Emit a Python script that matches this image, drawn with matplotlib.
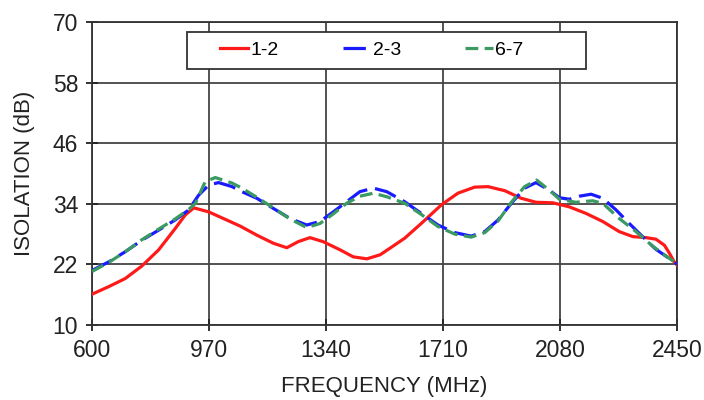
import numpy as np
import matplotlib.pyplot as plt
from matplotlib.patches import Rectangle

plt.rcParams["font.family"] = ["Liberation Sans", "DejaVu Sans"]

# isolation readings (dB) vs frequency (MHz)
freq_12 = [600, 653, 705, 758, 811, 863, 895, 922, 969, 1022, 1068, 1121, 1173,
           1216, 1252, 1289, 1331, 1384, 1426, 1469, 1511, 1542, 1589, 1641, 1705,
           1757, 1810, 1852, 1905, 1957, 2004, 2057, 2109, 2162, 2215, 2267, 2310,
           2352, 2383, 2410, 2426, 2441, 2450]
iso_12 = [16.1, 17.6, 19.2, 21.7, 24.9, 29.1, 31.8, 33.2, 32.4, 30.9, 29.6, 27.8, 26.2,
          25.3, 26.5, 27.3, 26.5, 24.9, 23.5, 23.1, 23.9, 25.2, 27.2, 30.1, 33.8,
          36.1, 37.3, 37.4, 36.6, 35.1, 34.3, 34.2, 33.4, 32.1, 30.5, 28.5, 27.5,
          27.3, 27.0, 25.8, 24.2, 22.5, 21.9]

freq_23 = [600, 653, 705, 758, 811, 863, 906, 937, 969, 1000, 1043, 1074, 1121, 1173,
           1226, 1279, 1321, 1363, 1405, 1447, 1490, 1532, 1589, 1641, 1694, 1747,
           1799, 1842, 1884, 1926, 1968, 2004, 2046, 2078, 2109, 2141, 2178, 2215,
           2257, 2299, 2341, 2383, 2441, 2450]
iso_23 = [20.8, 22.5, 24.5, 26.8, 28.8, 30.8, 32.8, 35.7, 37.7, 38.2, 37.4, 36.4, 35.1, 33.1,
          31.1, 29.8, 30.5, 32.4, 34.4, 36.4, 37.1, 36.4, 34.4, 32.1, 29.8, 28.3,
          27.6, 28.5, 30.8, 34.1, 37.1, 38.2, 36.7, 35.2, 34.9, 35.5, 35.9, 35.1,
          32.8, 30.1, 27.5, 25.0, 22.5, 22.0]

freq_67 = [600, 653, 705, 758, 811, 863, 906, 927, 958, 990, 1043, 1074, 1121, 1173,
           1226, 1279, 1321, 1363, 1405, 1447, 1490, 1532, 1589, 1641, 1694, 1747,
           1799, 1842, 1884, 1926, 1968, 2006, 2046, 2078, 2130, 2183, 2215, 2267,
           2320, 2373, 2441, 2450]
iso_67 = [20.6, 22.4, 24.5, 26.9, 29.0, 31.0, 32.9, 34.1, 38.4, 39.2, 38.1, 37.1, 35.3, 33.2,
          31.0, 29.3, 30.1, 32.0, 34.1, 35.5, 36.1, 35.4, 34.1, 31.9, 29.5, 28.0,
          27.4, 28.3, 30.6, 34.3, 37.4, 38.7, 36.7, 34.9, 34.3, 34.6, 34.1, 31.1,
          28.5, 25.6, 22.5, 22.0]

x_ticks = [600, 970, 1340, 1710, 2080, 2450]
y_ticks = [10, 22, 34, 46, 58, 70]

fig = plt.figure(figsize=(7.04, 4.0), dpi=100)
ax = fig.add_axes([0.1307, 0.1875, 0.831, 0.7575])

ax.plot(freq_12, iso_12, color="#ff1a1a", lw=2.3, label="1-2", zorder=3,
        solid_joinstyle="round")
ax.plot(freq_23, iso_23, color="#1a1aff", lw=2.3, dashes=(7, 2.5), label="2-3", zorder=4)
ax.plot(freq_67, iso_67, color="#3a9a62", lw=2.3, dashes=(4, 2), label="6-7", zorder=5)

ax.set_xlim(600, 2450)
ax.set_ylim(10, 70)
ax.set_xticks(x_ticks)
ax.set_yticks(y_ticks)
ax.grid(True, color="#444444", lw=1.3, zorder=1)
ax.tick_params(direction="inout", length=8, width=1.3, labelsize=16.5, pad=6,
               colors="#222222")
for s in ax.spines.values():
    s.set_color("#333333")
    s.set_linewidth(1.3)

ax.set_xlabel("FREQUENCY (MHz)", fontsize=16, color="#222222", labelpad=10)
ax.set_ylabel("ISOLATION (dB)", fontsize=16, color="#222222", labelpad=13)

# legend box
box = Rectangle((0.162, 0.845), 0.682, 0.122, transform=ax.transAxes,
                facecolor="white", edgecolor="#333333", lw=1.3, zorder=9)
ax.add_patch(box)
leg = ax.legend(loc="center left", bbox_to_anchor=(0.219, 0.906), ncol=3,
                fontsize=14, handlelength=1.45, handletextpad=0.1,
                columnspacing=3.3, frameon=False, borderpad=0, borderaxespad=0)
leg.set_zorder(10)

plt.savefig("out.png", dpi=100)
